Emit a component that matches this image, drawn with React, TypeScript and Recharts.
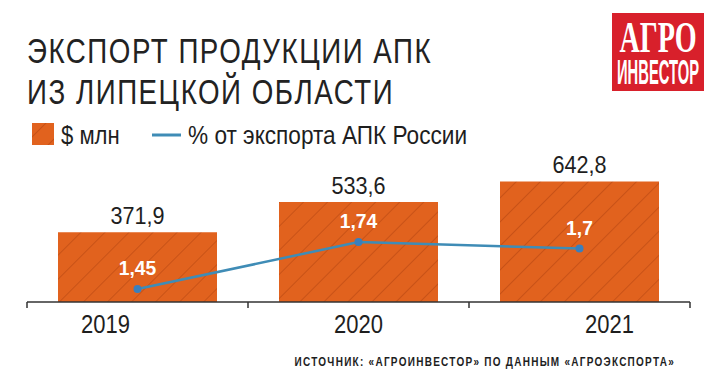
import { ComposedChart, Bar, Line, XAxis, YAxis, LabelList } from 'recharts';

const years = ['2019', '2020', '2021'];
const exportUsdMln = [371.9, 533.6, 642.8];
const shareOfRussia = [1.45, 1.74, 1.7];

const legendBar = '$ млн';
const legendLine = '% от экспорта АПК России';
const titleLines = ['ЭКСПОРТ ПРОДУКЦИИ АПК', 'ИЗ ЛИПЕЦКОЙ ОБЛАСТИ'];
const sourceText = 'ИСТОЧНИК: «АГРОИНВЕСТОР» ПО ДАННЫМ «АГРОЭКСПОРТА»';

const data = years.map((year, i) => ({
  year,
  usd: exportUsdMln[i],
  share: shareOfRussia[i],
}));

const SANS = "'Liberation Sans', Arial, sans-serif";
const ORANGE = '#e1621e';
const HATCH = '#a63a0e';
const BLUE = '#3f8cb6';
const INK = '#1e1e1e';

const comma = (v: any) => String(v).replace('.', ',');

// condensed look: no narrow font installed, so squeeze a regular one
function Squeezed({ x, y, sx = 0.85, anchor = 'start', children, ...rest }: any) {
  return (
    <text transform={`translate(${x},${y}) scale(${sx},1)`} textAnchor={anchor} fontFamily={SANS} {...rest}>
      {children}
    </text>
  );
}

// year labels sit a little off the band centres in the original
const yearShift = [-32, 0, 30];

function YearTick(props: any) {
  const { x, y, payload, index, visibleTicksCount } = props;
  const half = payload.offset ?? 0;
  const tick = { stroke: '#333', strokeWidth: 1.5 };
  return (
    <g>
      <line x1={x - half} y1={y} x2={x - half} y2={y + 6} {...tick} />
      {index === visibleTicksCount - 1 && <line x1={x + half} y1={y} x2={x + half} y2={y + 6} {...tick} />}
      <Squeezed x={x + (yearShift[index] ?? 0)} y={y + 31} anchor="middle" sx={0.88} fontSize={25} fill={INK}>
        {payload.value}
      </Squeezed>
    </g>
  );
}

function ValueLabel(props: any) {
  const { x, y, width, value } = props;
  return (
    <Squeezed x={x + width / 2} y={y - 8} anchor="middle" sx={0.9} fontSize={24} fill={INK}>
      {comma(value)}
    </Squeezed>
  );
}

function ShareLabel(props: any) {
  const { x, y, value } = props;
  return (
    <Squeezed x={x} y={y - 14} anchor="middle" sx={0.92} fontSize={21} fontWeight="bold" fill="#fff">
      {comma(value)}
    </Squeezed>
  );
}

export default function App() {
  return (
    <div style={{ position: 'absolute', left: 0, top: 0, width: 713, height: 387, background: '#fff' }}>
      <svg width={713} height={387} style={{ position: 'absolute', left: 0, top: 0 }}>
        <defs>
          <pattern id="hatch" width={17} height={17} patternUnits="userSpaceOnUse" patternTransform="rotate(45)">
            <rect width={17} height={17} fill={ORANGE} />
            <line x1={0} y1={0} x2={0} y2={17} stroke={HATCH} strokeWidth={1.2} strokeOpacity={0.7} />
          </pattern>
        </defs>

        {/* title */}
        {titleLines.map((t, i) => (
          <Squeezed key={t} x={27} y={63 + i * 41} sx={0.77} fontSize={36} letterSpacing={2} fill="#222">
            {t}
          </Squeezed>
        ))}

        {/* legend */}
        <rect x={32} y={123} width={22} height={22} fill="url(#hatch)" />
        <Squeezed x={61} y={144} sx={0.85} fontSize={26} fill={INK}>{legendBar}</Squeezed>
        <line x1={152} y1={135} x2={181} y2={135} stroke={BLUE} strokeWidth={3} />
        <Squeezed x={188} y={144} sx={0.87} fontSize={26} fill={INK}>{legendLine}</Squeezed>

        {/* logo */}
        <rect x={612} y={13} width={92} height={78} fill="#d8202b" />
        <text transform="translate(658,52) scale(0.64,1)" textAnchor="middle" fontFamily="'Liberation Serif', serif"
          fontWeight="bold" fontSize={44} fill="#fff">АГРО</text>
        <Squeezed x={658} y={84} anchor="middle" sx={0.41} fontSize={36} fontWeight="bold" fill="#fff">ИНВЕСТОР</Squeezed>

        {/* source */}
        <Squeezed x={675} y={366} anchor="end" sx={0.8} fontSize={12.5} fontWeight="bold" letterSpacing={1.6} fill={INK}>
          {sourceText}
        </Squeezed>
      </svg>

      <div style={{ position: 'absolute', left: 0, top: 0 }}>
        <ComposedChart
          width={713}
          height={387}
          data={data}
          margin={{ top: 152, right: 23, left: 27, bottom: 53 }}
          barCategoryGap={31}
        >
          <XAxis
            dataKey="year"
            height={32}
            axisLine={{ stroke: '#333', strokeWidth: 1.5 }}
            tickLine={false}
            tickSize={0}
            tickMargin={0}
            tick={<YearTick />}
            interval={0}
          />
          <YAxis yAxisId="usd" hide domain={[0, 800]} />
          <YAxis yAxisId="share" hide domain={[1.37, 2.296]} />
          <Bar yAxisId="usd" dataKey="usd" fill="url(#hatch)" isAnimationActive={false}>
            <LabelList dataKey="usd" content={<ValueLabel />} />
          </Bar>
          <Line
            yAxisId="share"
            dataKey="share"
            stroke={BLUE}
            strokeWidth={2.5}
            dot={{ r: 4, fill: '#3a7fbd', stroke: 'none' }}
            activeDot={false}
            isAnimationActive={false}
          >
            <LabelList dataKey="share" content={<ShareLabel />} />
          </Line>
        </ComposedChart>
      </div>
    </div>
  );
}
